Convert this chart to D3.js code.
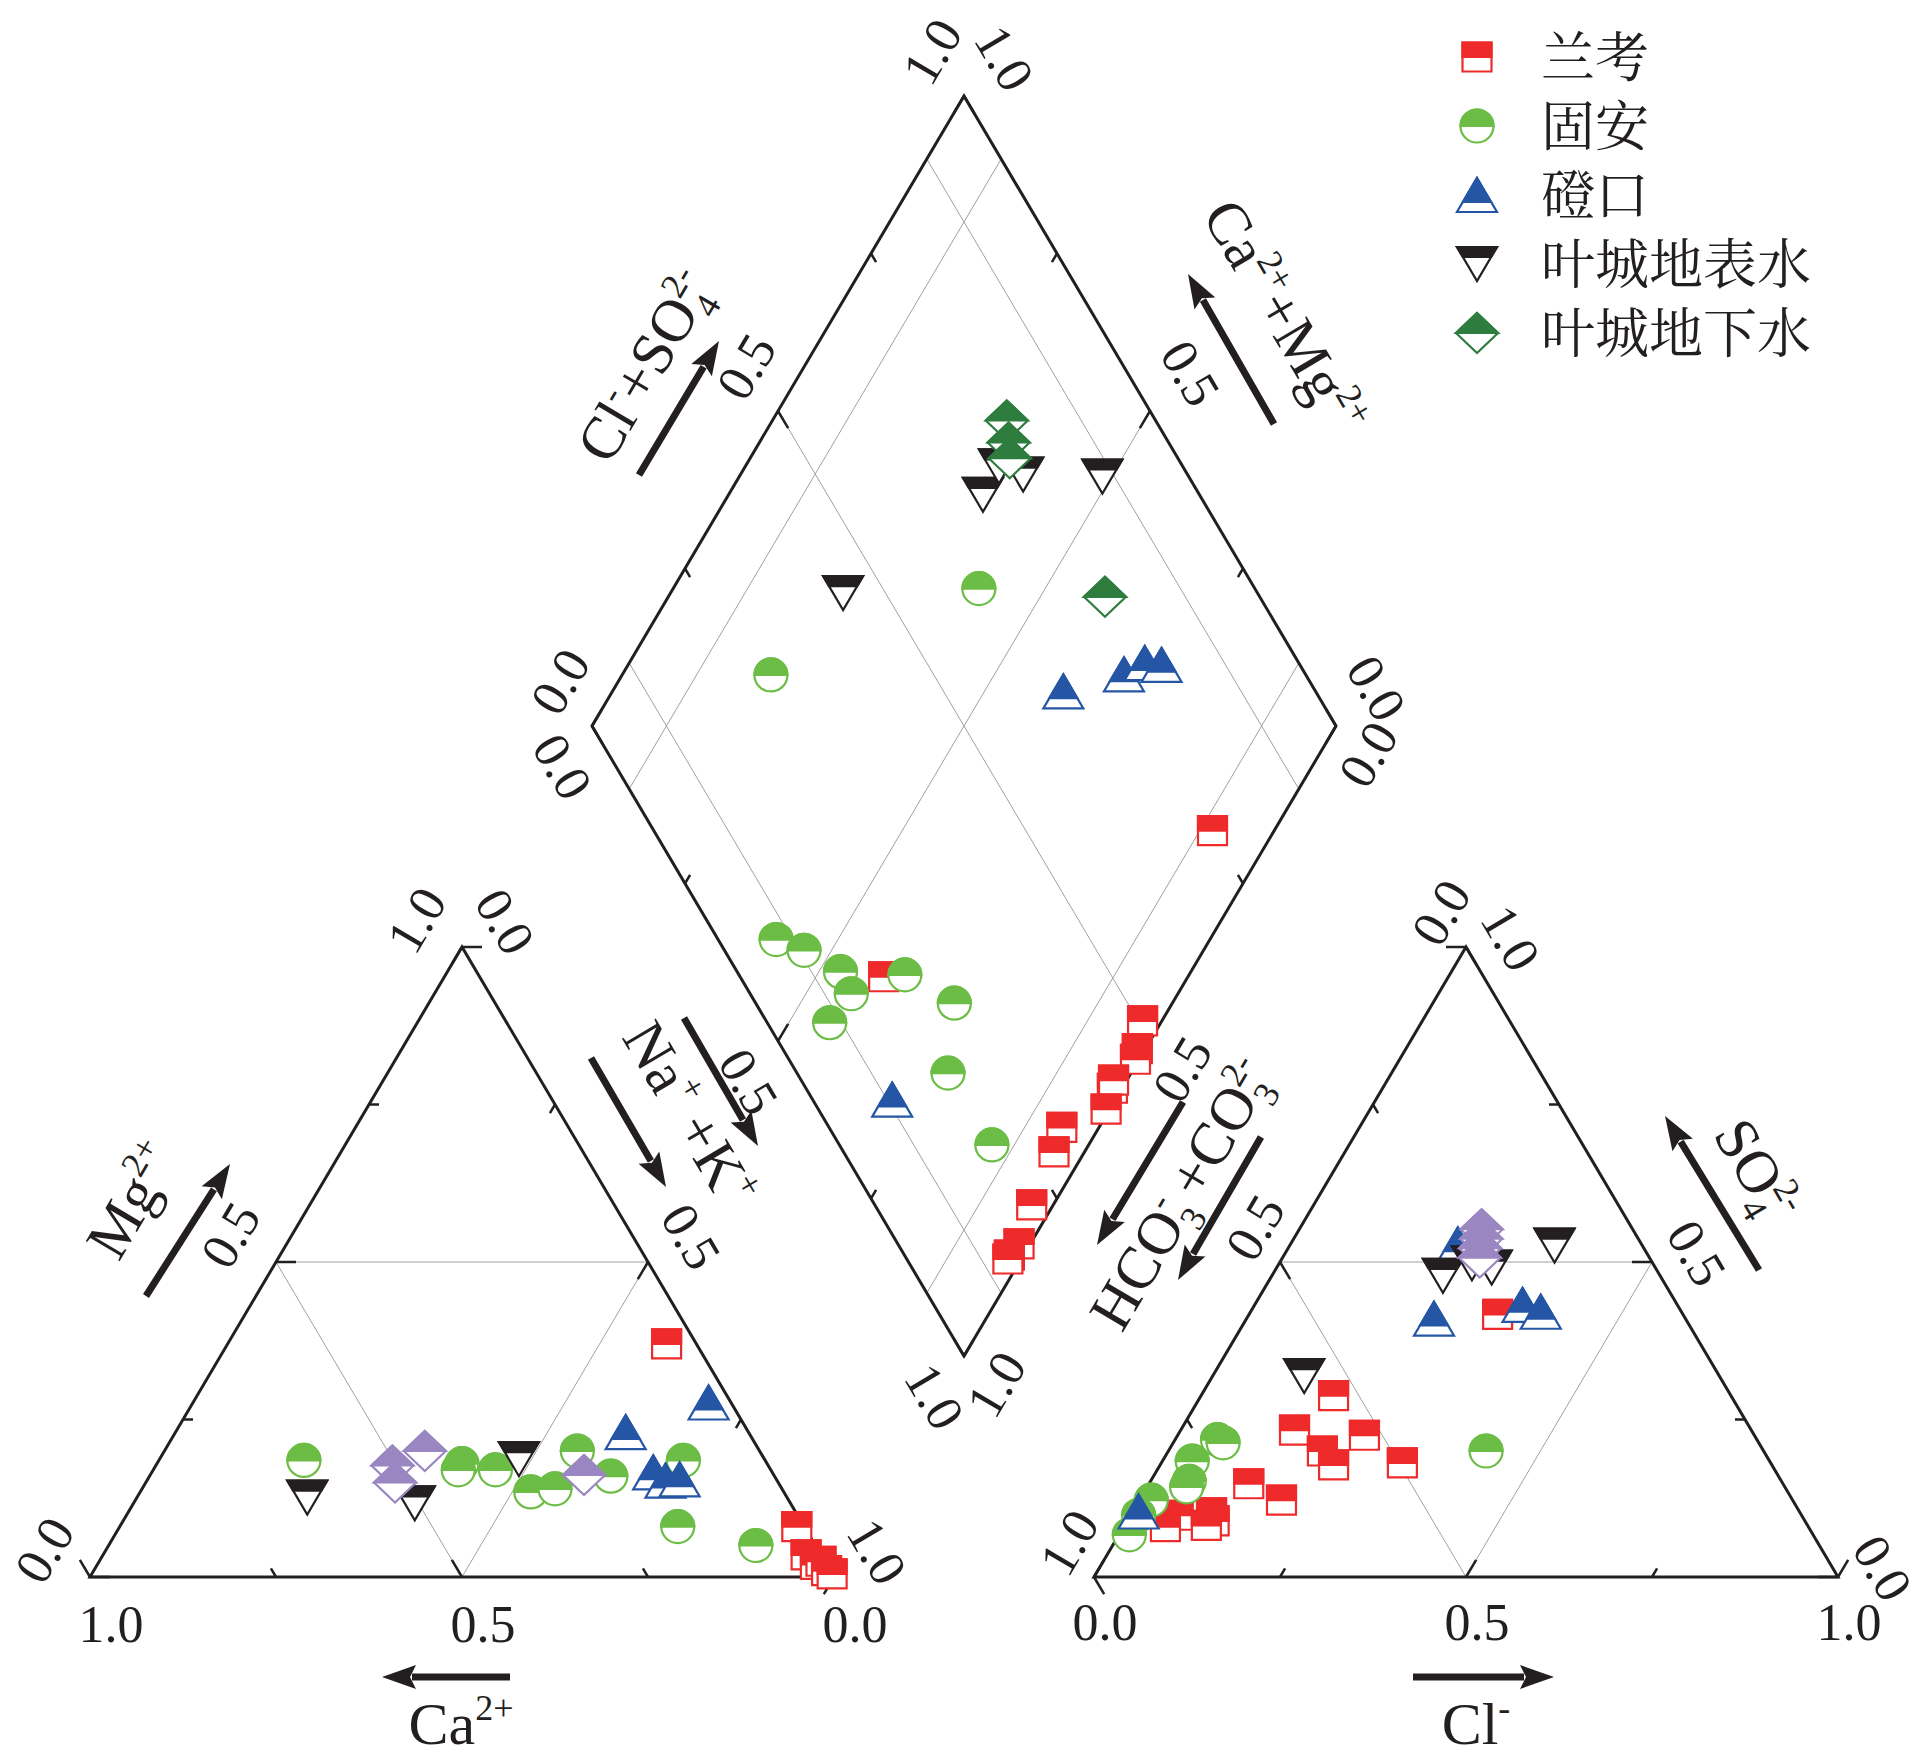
<!DOCTYPE html>
<html><head><meta charset="utf-8">
<script src="https://cdn.jsdelivr.net/npm/d3@7/dist/d3.min.js"></script>
<style>body{margin:0;background:#fff}svg{display:block}</style>
</head><body>
<script>
// ================= DATA =================
const seriesNames = ["兰考", "固安", "磴口", "叶城地表水", "叶城地下水"];
const tickValues = [0, 0.25, 0.5, 0.75, 1];
const labelValues = [0, 0.5, 1];
const tickLabels = ["0.0", "0.5", "1.0"];

// Cation triangle: [Ca2+, Mg2+] (meq fraction); Na+ + K+ = 1 - Ca - Mg
const lankaoCation = [[0.04,0.37],[0.01,0.08],[0.02,0.035],[0.015,0.02],[0.005,0.025],[0.005,0.01],[0.0,0.005]];
const guanCation   = [[0.62,0.185],[0.41,0.18],[0.42,0.17],[0.37,0.17],[0.34,0.135],[0.305,0.14],[0.245,0.20],[0.22,0.16],[0.11,0.185],[0.17,0.08],[0.08,0.05]];
const dengkouCation = [[0.03,0.277],[0.165,0.23],[0.16,0.166],[0.15,0.153],[0.13,0.155]];
const surfaceCation = [[0.645,0.126],[0.505,0.117],[0.33,0.187]];
const groundCation  = [[0.505,0.177],[0.45,0.20],[0.515,0.15],[0.255,0.162]];

// Anion triangle: [Cl-, SO4 2-]; HCO3- + CO3 2- = 1 - Cl - SO4
const lankaoAnion = [[0.178,0.288],[0.153,0.233],[0.207,0.200],[0.251,0.225],[0.233,0.178],[0.324,0.181],[0.134,0.148],[0.191,0.122],[0.334,0.417],[0.064,0.098],[0.056,0.080],[0.107,0.102],[0.117,0.089],[0.110,0.082]];
const guanAnion   = [[0.057,0.218],[0.067,0.213],[0.040,0.184],[0.052,0.152],[0.053,0.143],[0.016,0.122],[0.011,0.098],[0.014,0.067],[0.427,0.200]];
const dengkouAnion = [[0.225,0.528],[0.252,0.410],[0.360,0.432],[0.390,0.421],[0.008,0.104]];
const surfaceAnion = [[0.356,0.526],[0.230,0.478],[0.259,0.498],[0.289,0.491],[0.123,0.319]];
const groundAnion  = [[0.245,0.552],[0.252,0.537],[0.258,0.522],[0.265,0.507]];

// Diamond: [Cl- + SO4 2-, Ca2+ + Mg2+]
const lankaoDiamond = [[0.751,0.083],[0.193,0.409],[0.506,0.026],[0.477,0.011],[0.466,0.005],[0.412,0.013],[0.420,0.018],[0.387,0.005],[0.313,0.050],[0.283,0.041],[0.211,0.029],[0.163,0.015],[0.141,0.019],[0.136,0.018]];
const guanDiamond   = [[0.078,0.583],[0.107,0.537],[0.139,0.471],[0.136,0.439],[0.223,0.382],[0.084,0.445],[0.267,0.293],[0.203,0.246],[0.205,0.130],[0.629,0.589],[0.281,0.800]];
const dengkouDiamond = [[0.107,0.300],[0.661,0.394],[0.756,0.326],[0.793,0.307],[0.814,0.283]];
const surfaceDiamond = [[0.443,0.768],[0.709,0.658],[0.753,0.659],[0.779,0.620],[0.884,0.512]];
const groundDiamond  = [[0.800,0.685],[0.785,0.665],[0.774,0.651],[0.792,0.413]];

// ================= LAYOUT =================
const ink = "#231f20";
const W = 744, H = 630;
const CAT = {x: 90, y: 1577};
const AN  = {x: 1094, y: 1577};
const DB  = {x: 964, y: 1356};
const serif = "'Liberation Serif','Times New Roman',serif";
const LBL = 52, TTL = 60;

const sx = d3.scaleLinear().domain([0, 1]).range([0, W]);
const sy = d3.scaleLinear().domain([0, 1]).range([0, H]);

const catPos = (ca, mg) => [CAT.x + sx(1 - ca - mg + mg / 2), CAT.y - sy(mg)];
const anPos  = (cl, so) => [AN.x + sx(cl + so / 2), AN.y - sy(so)];
const diaPos = (cs, cm) => [DB.x + sx((cs - cm) / 2), DB.y - sy(cs + cm)];

const series = [
  {name: seriesNames[0], shape: "square",  color: "#ee2a2b", triColor: "#ee2a2b", cation: lankaoCation, anion: lankaoAnion, diamond: lankaoDiamond},
  {name: seriesNames[1], shape: "circle",  color: "#6cbd45", triColor: "#6cbd45", cation: guanCation, anion: guanAnion, diamond: guanDiamond},
  {name: seriesNames[2], shape: "up",      color: "#2456a5", triColor: "#2456a5", cation: dengkouCation, anion: dengkouAnion, diamond: dengkouDiamond},
  {name: seriesNames[3], shape: "down",    color: ink,       triColor: ink,       cation: surfaceCation, anion: surfaceAnion, diamond: surfaceDiamond},
  {name: seriesNames[4], shape: "diamond", color: "#2e7c3e", triColor: "#9a86c1", cation: groundCation, anion: groundAnion, diamond: groundDiamond}
];

const shapes = {
  square:  {o: "M-14.5,-14.5H14.5V14.5H-14.5Z", f: "M-14.5,-14.5H14.5V0H-14.5Z"},
  circle:  {o: "M-16.5,0A16.5,16.5 0 1 0 16.5,0A16.5,16.5 0 1 0 -16.5,0Z", f: "M-16.5,0A16.5,16.5 0 0 1 16.5,0Z"},
  up:      {o: "M0,-17L20,17L-20,17Z", f: "M0,-17L14,6.8L-14,6.8Z"},
  down:    {o: "M-20,-17L20,-17L0,17Z", f: "M-20,-17L20,-17L14.1,-7L-14.1,-7Z"},
  diamond: {o: "M0,-20L21,0L0,20L-21,0Z", f: "M0,-20L21,0L-21,0Z"}
};

const svg = d3.select("body").append("svg").attr("width", 1928).attr("height", 1762)
  .attr("font-family", serif);
svg.append("rect").attr("width", 1928).attr("height", 1762).attr("fill", "#fff");

const line = d3.line();
const gGrid = svg.append("g").attr("stroke", "#a0a0a0").attr("stroke-width", 1).attr("fill", "none");
const gFrame = svg.append("g").attr("stroke", ink).attr("stroke-width", 3).attr("fill", "none").attr("stroke-linejoin", "miter");
const gTicks = svg.append("g").attr("stroke", ink).attr("stroke-width", 2.5);
const gText = svg.append("g").attr("fill", ink);
const gMarks = svg.append("g");

// ---- grids ----
gGrid.append("path").attr("d", line([catPos(0.5,0.5), catPos(0,0.5), catPos(0.5,0)]) + "Z");
gGrid.append("path").attr("d", line([anPos(0,0.5), anPos(0.5,0.5), anPos(0.5,0)]) + "Z");
[0.1, 0.5, 0.9].forEach(v => {
  gGrid.append("path").attr("d", line([diaPos(v,0), diaPos(v,1)]));
  gGrid.append("path").attr("d", line([diaPos(0,v), diaPos(1,v)]));
});

// ---- frames ----
gFrame.append("path").attr("d", line([catPos(1,0), catPos(0,0), catPos(0,1)]) + "Z");
gFrame.append("path").attr("d", line([anPos(0,0), anPos(1,0), anPos(0,1)]) + "Z");
gFrame.append("path").attr("d", line([diaPos(0,0), diaPos(1,0), diaPos(1,1), diaPos(0,1)]) + "Z");

// ---- axes (ticks + labels) ----
const unit = (v) => { const l = Math.hypot(v[0], v[1]); return [v[0]/l, v[1]/l]; };
const ANG = Math.atan2(H, W/2) * 180 / Math.PI;
const axes = [
  // cation
  {pt: v => catPos(v, 0), dir: [-W/2, -H], bottom: [21, 47]},
  {pt: v => catPos(1 - v, v), dir: [1, 0], p0: catPos(1,0), p1: catPos(0,1), side: 1, N: 53, A: 0, ang: -ANG},
  {pt: v => catPos(0, 1 - v), dir: [-W/2, H], p0: catPos(0,1), p1: catPos(0,0), side: 1, N: 50, A: 0, ang: ANG},
  // anion
  {pt: v => anPos(v, 0), dir: [W/2, -H], bottom: [11, 45]},
  {pt: v => anPos(1 - v, v), dir: [-1, 0], p0: anPos(1,0), p1: anPos(0,1), side: -1, N: 43, A: -15, ang: ANG},
  {pt: v => anPos(0, 1 - v), dir: [W/2, H], p0: anPos(0,1), p1: anPos(0,0), side: -1, N: 39, A: -17, ang: -ANG},
  // diamond
  {pt: v => diaPos(v, 1), dir: [W/2, H], p0: diaPos(0,1), p1: diaPos(1,1), side: 1, N: 50, A: 22, ang: -ANG},
  {pt: v => diaPos(1, v), dir: [-W/2, H], p0: diaPos(1,0), p1: diaPos(1,1), side: -1, N: 54, A: 12, ang: ANG},
  {pt: v => diaPos(0, 1 - v), dir: [W/2, -H], p0: diaPos(0,1), p1: diaPos(0,0), side: -1, N: 46, A: 20, ang: ANG},
  {pt: v => diaPos(1 - v, 0), dir: [-W/2, -H], p0: diaPos(1,0), p1: diaPos(0,0), side: 1, N: 42, A: 8, ang: -ANG}
];
axes.forEach(ax => {
  const d = unit(ax.dir);
  tickValues.forEach(v => {
    const p = ax.pt(v);
    const len = (v === 0.5 || v === 0 || v === 1) ? 20 : 10;
    gTicks.append("line").attr("x1", p[0]).attr("y1", p[1])
      .attr("x2", p[0] + d[0]*len).attr("y2", p[1] + d[1]*len);
  });
  labelValues.forEach((v, i) => {
    const p = ax.pt(v);
    let x, y, a = 0;
    if (ax.bottom) { x = p[0] + ax.bottom[0]; y = p[1] + ax.bottom[1]; }
    else {
      const u = unit([ax.p1[0]-ax.p0[0], ax.p1[1]-ax.p0[1]]);
      const n = ax.side > 0 ? [u[1], -u[0]] : [-u[1], u[0]];
      x = p[0] + n[0]*ax.N + u[0]*ax.A; y = p[1] + n[1]*ax.N + u[1]*ax.A; a = ax.ang;
    }
    gText.append("g").attr("transform", `translate(${x},${y}) rotate(${a})`)
      .append("text").attr("text-anchor", "middle").attr("y", LBL*0.34)
      .attr("font-size", LBL).text(tickLabels[i]);
  });
});

// ---- titles with sub/superscripts ----
function rich(parts, x, y, angle, size) {
  const t = gText.append("g").attr("transform", `translate(${x},${y}) rotate(${angle})`)
    .append("text").attr("text-anchor", "middle").attr("y", size*0.34).attr("font-size", size);
  let cur = 0;
  parts.forEach(([txt, kind, dx]) => {
    let off = 0, fs = size;
    if (kind === "sup") { off = -0.40*size; fs = 0.6*size; }
    if (kind === "sub") { off = 0.24*size; fs = 0.6*size; }
    const ts = t.append("tspan").attr("font-size", fs).attr("dy", off - cur).text(txt);
    if (dx) ts.attr("dx", dx);
    cur = off;
  });
}
const back = -0.3 * TTL;
rich([["Mg"],["2+","sup"]], 132, 1200, -ANG, TTL);
rich([["Ca"],["2+","sup"]], 461, 1724, 0, TTL);
rich([["Na"],["+","sup"],[" +K"],["+","sup"]], 690, 1114, ANG, TTL);
rich([["Cl"],["-","sup"]], 1476, 1724, 0, TTL);
rich([["SO"],["4","sub"],["2-","sup",back]], 1757, 1170, ANG, TTL);
rich([["HCO"],["3","sub"],["-","sup",back],[" +CO"],["3","sub"],["2-","sup",back]], 1181, 1194, -ANG, TTL);
rich([["Cl"],["-","sup"],["+SO"],["4","sub"],["2-","sup",back]], 645, 366, -ANG, TTL);
rich([["Ca"],["2+","sup"],["+Mg"],["2+","sup"]], 1285, 317, ANG, TTL);

// ---- arrows ----
function arrow(x1, y1, x2, y2) {
  const d = unit([x2-x1, y2-y1]), n = [-d[1], d[0]];
  const hl = 34, hw = 12;
  const bx = x2 - d[0]*hl, by = y2 - d[1]*hl;
  gText.append("line").attr("x1", x1).attr("y1", y1).attr("x2", bx + d[0]*4).attr("y2", by + d[1]*4)
    .attr("stroke", ink).attr("stroke-width", 7);
  gText.append("path").attr("d", line([[x2, y2], [bx + n[0]*hw, by + n[1]*hw], [bx + d[0]*6, by + d[1]*6], [bx - n[0]*hw, by - n[1]*hw]]) + "Z")
    .attr("fill", ink);
}
arrow(146, 1296, 230, 1164);   // Mg
arrow(510, 1677, 382, 1677);   // Ca
arrow(591, 1058, 666, 1187);   // Na+K (cation)
arrow(684, 1018, 758, 1146);   // Na+K (diamond)
arrow(639, 475, 719, 341);     // Cl+SO4
arrow(1274, 424, 1188, 274);   // Ca+Mg
arrow(1183, 1102, 1097, 1245); // HCO3 (diamond)
arrow(1261, 1137, 1178, 1280); // HCO3 (anion)
arrow(1413, 1677, 1554, 1677); // Cl
arrow(1759, 1270, 1665, 1116); // SO4

// ---- markers ----
function marker(shape, color, x, y) {
  const g = gMarks.append("g").attr("transform", `translate(${x},${y})`);
  g.append("path").attr("d", shapes[shape].o).attr("fill", "#fff").attr("stroke", color).attr("stroke-width", 2.2);
  g.append("path").attr("d", shapes[shape].f).attr("fill", color).attr("stroke", color).attr("stroke-width", 2.2);
}
series.forEach(s => {
  s.cation.forEach(([ca, mg]) => { const p = catPos(ca, mg); marker(s.shape, s.triColor, p[0], p[1]); });
  s.anion.forEach(([cl, so]) => { const p = anPos(cl, so); marker(s.shape, s.triColor, p[0], p[1]); });
  s.diamond.forEach(([cs, cm]) => { const p = diaPos(cs, cm); marker(s.shape, s.color, p[0], p[1]); });
});

// ---- legend ----
const legY = d3.scaleLinear().domain([0, 1]).range([57, 126]);
series.forEach((s, i) => {
  marker(s.shape, s.color, 1477, legY(i));
  svg.append("text").attr("x", 1541).attr("y", legY(i) + 20)
    .attr("font-family", "'Noto Serif CJK SC','Noto Sans CJK SC',sans-serif")
    .attr("font-size", 54).attr("fill", ink).text(s.name);
});
</script>
</body></html>
